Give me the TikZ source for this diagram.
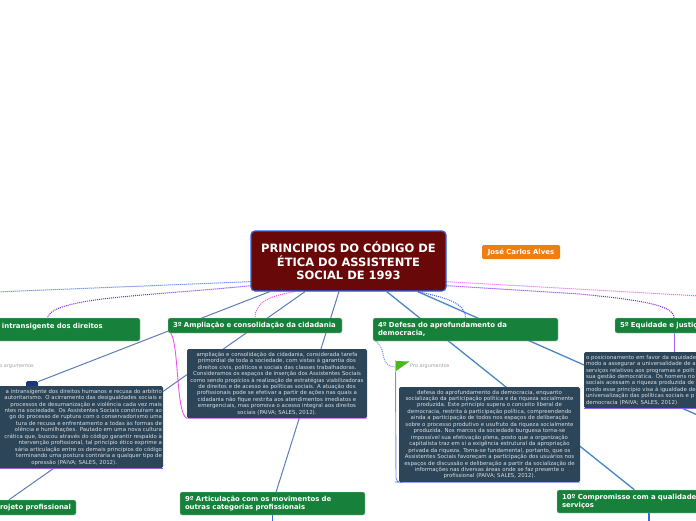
\documentclass[tikz,border=0pt]{standalone}
\usepackage{fontspec}
\setmainfont{DejaVu Sans}
\usepackage{tikz}
\usetikzlibrary{arrows.meta, positioning, calc, backgrounds}
\definecolor{rootred}{HTML}{690808}
\definecolor{rootblue}{HTML}{2563EB}
\definecolor{topicgreen}{HTML}{17803A}
\definecolor{authororange}{HTML}{F07D12}
\definecolor{textslate}{HTML}{2D4558}
\definecolor{linesteel}{HTML}{5C7DB8}
\definecolor{linesky}{HTML}{4A86C8}
\definecolor{linkblue}{HTML}{3566E6}
\definecolor{linkviolet}{HTML}{7A22F0}
\definecolor{linkpink}{HTML}{F050F0}
\definecolor{markgreen}{HTML}{4CB81E}
\definecolor{navymark}{HTML}{17377F}
\tikzset{
    rootbox/.style={rectangle, draw=rootblue, fill=rootred, line width=1.2pt, rounded corners=4pt, text=white, align=center, minimum width=195pt, minimum height=60pt, inner sep=0pt, font=\bfseries\fontsize{11.5}{13.6}\selectfont},
    topicbox/.style={rectangle, draw=topicgreen!35, fill=topicgreen, line width=0.4pt, rounded corners=2pt, text=white, align=left, inner xsep=5pt, inner ysep=0pt, font=\bfseries\fontsize{6.9}{8}\selectfont},
    textbox/.style={rectangle, fill=textslate, rounded corners=1.5pt, text=white!82!textslate, align=center, inner xsep=1pt, inner ysep=0pt, font=\fontsize{5.42}{6.45}\selectfont},
    authorbox/.style={rectangle, fill=authororange, rounded corners=1.5pt, text=white, minimum width=78pt, minimum height=14pt, inner sep=0pt, font=\bfseries\fontsize{6.9}{8}\selectfont},
    hint/.style={text=black!38, inner sep=0pt, font=\fontsize{4.95}{6}\selectfont},
    branch/.style={draw=linesteel, line width=1pt},
    skybranch/.style={draw=linesky, line width=1.3pt},
    dotlink/.style={densely dotted, line width=1pt},
    solidlink/.style={line width=0.9pt, rounded corners=4pt}
}
\begin{document}
\begin{tikzpicture}[x=1pt, y=-1pt]
    \useasboundingbox (0,0) rectangle (696,520);
    \clip (0,0) rectangle (696,520);

    \node[rootbox] (root) at (348.5,261) {PRINCIPIOS DO CÓDIGO DE\\ÉTICA DO ASSISTENTE\\SOCIAL DE 1993};
    \node[authorbox] (author) at (521,252) {José Carlos Alves};

    \node[topicbox, minimum height=23pt, text width=175pt] (first) at (47.5,329.5) {\hspace*{42pt}intransigente dos direitos\\\mbox{}};
    \node[topicbox, minimum height=15pt, text width=164pt] (third) at (255,325.5) {3º Ampliação e consolidação da cidadania};
    \node[topicbox, minimum height=23pt, text width=175pt] (fourth) at (465.5,329.5) {4º Defesa do aprofundamento da\\democracia,};
    \node[topicbox, minimum height=15pt, text width=108pt] (fifth) at (674,325.5) {5º Equidade e justiç};
    \node[topicbox, minimum height=23pt, text width=175pt] (ninth) at (272.5,503.5) {9º Articulação com os movimentos de\\outras categorias profissionais};
    \node[topicbox, minimum height=23pt, text width=174pt] (tenth) at (649,501.5) {10º Compromisso com a qualidade\\serviços};
    \node[topicbox, minimum height=15pt, text width=146pt, align=right] (project) at (-2,507.5) {rojeto profissional};

    \node[fill=navymark, rounded corners=1.5pt, minimum width=12pt, minimum height=6pt, inner sep=0pt] (mark) at (32,384) {};
    \node[textbox, minimum height=82pt, text width=180pt, align=right] (secondtext) at (72,427) {a intransigente dos direitos humanos e recusa do arbítrio\hspace*{3pt}\\
        autoritarismo. O acirramento das desigualdades sociais e\hspace*{5pt}\\
        processos de desumanização e violência cada vez mais\hspace*{19pt}\\
        ntes na sociedade. Os Assistentes Sociais construíram ao\hspace*{5pt}\\
        go do processo de ruptura com o conservadorismo uma\hspace*{14pt}\\
        tura de recusa e enfrentamento a todas às formas de\hspace*{14pt}\\
        olência e humilhações. Pautado em uma nova cultura\hspace*{24pt}\\
        crática que, buscou através do código garantir respaldo à\hspace*{3pt}\\
        ntervenção profissional, tal princípio ético exprime a\hspace*{18pt}\\
        sária articulação entre os demais princípios do código\hspace*{6pt}\\
        terminando uma postura contrária a qualquer tipo de\hspace*{14pt}\\
        opressão (PAIVA; SALES, 2012).\hspace*{45pt}};
    \node[textbox, minimum width=180pt, minimum height=69pt] (thirdtext) at (277,383.5) {ampliação e consolidação da cidadania, considerada tarefa\\
        primordial de toda a sociedade, com vistas à garantia dos\\
        direitos civis, políticos e sociais das classes trabalhadoras.\\
        Consideramos os espaços de inserção dos Assistentes Sociais\\
        como sendo propícios à realização de estratégias viabilizadoras\\
        de direitos e de acesso às políticas sociais. A atuação dos\\
        profissionais pode se efetivar a partir de ações nas quais a\\
        cidadania não fique restrita aos atendimentos imediatos e\\
        emergenciais, mas promova o acesso integral aos direitos\\
        sociais (PAIVA; SALES, 2012).};
    \node[textbox, minimum width=181pt, minimum height=95pt] (fourthtext) at (489.5,434.5) {defesa do aprofundamento da democracia, enquanto\\
        socialização da participação política e da riqueza socialmente\\
        produzida. Este princípio supera o conceito liberal de\\
        democracia, restrita à participação política, compreendendo\\
        ainda a participação de todos nos espaços de deliberação\\
        sobre o processo produtivo e usufruto da riqueza socialmente\\
        produzida. Nos marcos da sociedade burguesa torna-se\\
        impossível sua efetivação plena, posto que a organização\\
        capitalista traz em si a exigência estrutural da apropriação\\
        privada da riqueza. Torna-se fundamental, portanto, que os\\
        Assistentes Sociais favoreçam a participação dos usuários nos\\
        espaços de discussão e deliberação a partir da socialização de\\
        informações nas diversas áreas onde se faz presente o\\
        profissional (PAIVA; SALES, 2012).};
    \node[textbox, minimum width=180pt, minimum height=56pt, text width=176pt, align=left, inner xsep=2pt] (fifthtext) at (674,380) {o posicionamento em favor da equidade\\
        modo a assegurar a universalidade de a\\
        serviços relativos aos programas e polít\\
        sua gestão democrática. Os homens no\\
        sociais acessam a riqueza produzida de\\
        modo esse princípio visa à igualdade de\\
        universalização das políticas sociais e p\\
        democracia (PAIVA; SALES, 2012)};

    \node[hint, anchor=west] (proright) at (410,366) {Pro argumentos};
    \node[hint, anchor=east] (proleft) at (34,366) {o argumentos};
    \coordinate (flag) at (395.5,367);
    \coordinate (offright) at (745,436);
    \coordinate (offmagenta) at (700,296);
    \coordinate (offleft) at (-4,292);
    \coordinate (ninthend) at (272.5,524);
    \coordinate (tenthend) at (649,524);
    \draw[draw=black!25, line width=0.8pt] (395.5,360) -- (395.5,372);
    \fill[markgreen] (396,361) -- (409.5,361.5) -- (396,371) -- cycle;

    \begin{scope}[on background layer]
        \draw[branch] (root) -- (mark);
        \draw[branch] (root) -- (project);
        \draw[branch] (root) -- (ninth);
        \draw[skybranch] (root) -- (tenth);
        \draw[skybranch] (root) -- (offright);
        \draw[dotlink, linkblue] ($(root.south west)+(1,-10)$) -- (offleft);
        \draw[dotlink, linkviolet] ($(root.south west)+(1,-6)$) .. controls (150,296) and (52,297) .. (first.north);
        \draw[dotlink, linkpink] ($(root.south)+(-54,0)$) .. controls (270,296) and (255,302) .. (third.north);
        \draw[dotlink, linkblue] ($(root.south)+(70,0)$) .. controls (445,298) and (465,302) .. (fourth.north);
        \draw[dotlink, linkpink] ($(root.south east)+(-1,-10)$) -- (offmagenta);
        \draw[dotlink, linkviolet] ($(root.south east)+(-1,-6)$) -- (580,294) .. controls (640,300) and (674,305) .. (fifth.north);
        \draw[solidlink, linkviolet!70] (fifth) -- (fifthtext);
        \draw[solidlink, linkviolet!70] (fifthtext.south west) -- (fifthtext.south east);
        \draw[solidlink, linkviolet!70] (secondtext.south west) -- (secondtext.south east);
        \draw[line width=0.9pt, linkpink] ($(third.south west)+(3,0)$) .. controls (179,345) and (176,414) .. (thirdtext.south west) -- (thirdtext.south east);
        \draw[dotlink, linkblue!70] ($(fourth.south west)+(3,0)$) .. controls (388,350) and (378,366) .. (flag);
        \draw[solidlink, linkblue!70] (flag) -- (396,482) -- (fourthtext.south west) -- (fourthtext.south east);
        \draw[line width=1.4pt, linkblue] (ninth) -- (ninthend);
        \draw[line width=1.4pt, linkblue] (tenth) -- (tenthend);
    \end{scope}
\end{tikzpicture}
\end{document}
